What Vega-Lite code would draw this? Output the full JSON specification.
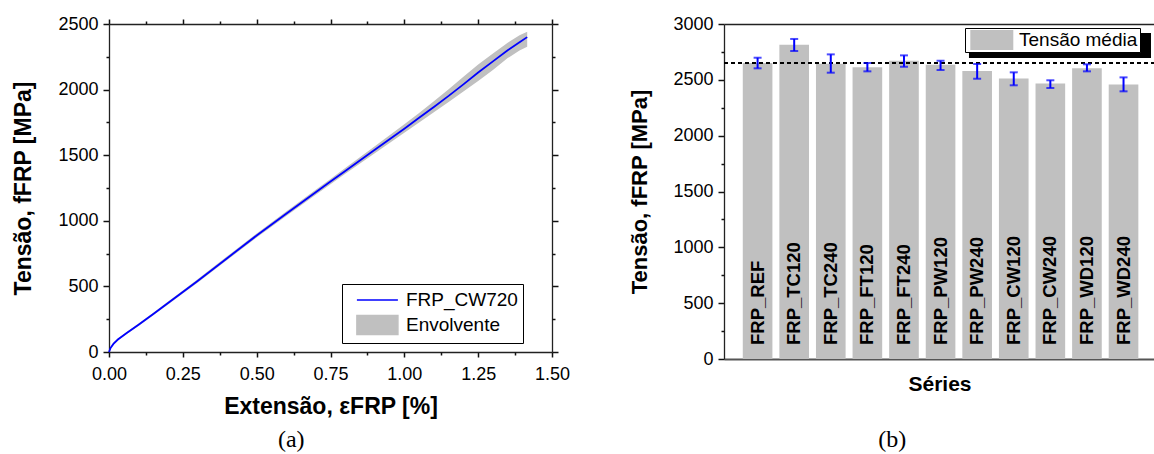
{
  "$schema": "https://vega.github.io/schema/vega-lite/v6.json",
  "background": "white",
  "padding": {"left": 12, "top": 15, "right": 0, "bottom": 0},
  "spacing": 58,
  "config": {
    "font": "Liberation Sans",
    "view": {"stroke": null},
    "axis": {
      "grid": false,
      "ticks": true,
      "domainColor": "#222222",
      "domainWidth": 1.3,
      "tickColor": "#111111",
      "tickWidth": 1.5,
      "labelColor": "black",
      "titleColor": "black",
      "labelFont": "Liberation Sans",
      "titleFont": "Liberation Sans",
      "labelOverlap": false
    },
    "legend": {"labelFont": "Liberation Sans", "labelColor": "black"}
  },
  "resolve": {"scale": {"color": "independent"}, "legend": {"color": "independent"}},
  "hconcat": [
    {
      "width": 443,
      "height": 328,
      "title": {"text": "(a)", "orient": "bottom", "frame": "bounds", "anchor": "middle", "font": "Liberation Serif", "fontSize": 24, "fontWeight": "normal", "color": "black", "offset": 10},
      "data": {"values": [
        {"x": 0, "y": 0, "lo": 0, "hi": 0},
        {"x": 0.005, "y": 30, "lo": 25, "hi": 35},
        {"x": 0.015, "y": 62, "lo": 55, "hi": 70},
        {"x": 0.03, "y": 95, "lo": 87, "hi": 103},
        {"x": 0.06, "y": 145, "lo": 137, "hi": 153},
        {"x": 0.1, "y": 208, "lo": 199, "hi": 217},
        {"x": 0.15, "y": 290, "lo": 280, "hi": 300},
        {"x": 0.2, "y": 373, "lo": 362, "hi": 384},
        {"x": 0.25, "y": 457, "lo": 445, "hi": 469},
        {"x": 0.3, "y": 541, "lo": 528, "hi": 554},
        {"x": 0.4, "y": 715, "lo": 701, "hi": 729},
        {"x": 0.5, "y": 888, "lo": 872, "hi": 904},
        {"x": 0.6, "y": 1053, "lo": 1036, "hi": 1070},
        {"x": 0.7, "y": 1218, "lo": 1199, "hi": 1237},
        {"x": 0.75, "y": 1299, "lo": 1279, "hi": 1319},
        {"x": 0.8, "y": 1380, "lo": 1358, "hi": 1402},
        {"x": 0.9, "y": 1542, "lo": 1515, "hi": 1569},
        {"x": 1.0, "y": 1702, "lo": 1672, "hi": 1735},
        {"x": 1.05, "y": 1785, "lo": 1750, "hi": 1822},
        {"x": 1.1, "y": 1868, "lo": 1828, "hi": 1912},
        {"x": 1.15, "y": 1952, "lo": 1905, "hi": 2003},
        {"x": 1.2, "y": 2040, "lo": 1985, "hi": 2098},
        {"x": 1.25, "y": 2130, "lo": 2065, "hi": 2192},
        {"x": 1.3, "y": 2215, "lo": 2150, "hi": 2275},
        {"x": 1.35, "y": 2300, "lo": 2240, "hi": 2358},
        {"x": 1.39, "y": 2360, "lo": 2298, "hi": 2415},
        {"x": 1.416, "y": 2400, "lo": 2327, "hi": 2441}
      ]},
      "resolve": {"axis": {"x": "independent", "y": "independent"}},
      "layer": [
        {
          "data": {"values": [{}]},
          "mark": {"type": "rect", "color": "black"},
          "encoding": {
            "x": {"datum": 0.8059, "type": "quantitative", "axis": null},
            "x2": {"datum": 1.4018},
            "y": {"datum": 480, "type": "quantitative", "axis": null},
            "y2": {"datum": 76.2}
          }
        },
        {
          "mark": {"type": "area", "opacity": 1},
          "encoding": {
            "x": {"field": "x", "type": "quantitative", "scale": {"domain": [0, 1.5], "nice": false, "zero": false},
              "axis": {"orient": "bottom", "values": [0, 0.25, 0.5, 0.75, 1, 1.25, 1.5], "format": ".2f",
                "ticks": true, "tickSize": 5, "labelFontSize": 18, "labelPadding": 8, "labelFlush": false,
                "title": "Extensão, εFRP [%]", "titleFontSize": 23, "titleFontWeight": "bold", "titlePadding": 12}},
            "y": {"field": "lo", "type": "quantitative", "scale": {"domain": [0, 2500], "nice": false},
              "axis": {"orient": "left", "values": [0, 500, 1000, 1500, 2000, 2500], "format": "d",
                "ticks": true, "tickSize": 6, "labelFontSize": 18, "labelPadding": 5,
                "title": "Tensão, fFRP [MPa]", "titleFontSize": 23, "titleFontWeight": "bold", "titlePadding": 22}},
            "y2": {"field": "hi"},
            "color": {"datum": "Envolvente", "type": "nominal",
              "scale": {"domain": ["FRP_CW720", "Envolvente"], "range": ["#0000ff", "#c0c0c0"]},
              "legend": {"orient": "none", "legendX": 233, "legendY": 260, "title": null,
                "strokeColor": "black", "fillColor": "white", "padding": 5,
                "labelFontSize": 19, "labelOffset": 37, "rowPadding": 2,
                "symbolSize": 400,
                "symbolType": {"expr": "datum.label === 'FRP_CW720' ? 'M-0.11,0H3.99' : 'M-0.11,-0.95H3.99V0.95H-0.11Z'"},
                "symbolStrokeWidth": 1.5}}
          }
        },
        {
          "mark": {"type": "line", "strokeWidth": 1.8},
          "encoding": {
            "x": {"field": "x", "type": "quantitative",
              "axis": {"orient": "top", "values": [0, 0.25, 0.5, 0.75, 1, 1.25, 1.5], "labels": false, "title": null, "ticks": true, "tickSize": 5}},
            "y": {"field": "y", "type": "quantitative",
              "axis": {"orient": "right", "values": [0, 500, 1000, 1500, 2000, 2500], "labels": false, "title": null, "ticks": true, "tickSize": 6}},
            "color": {"datum": "FRP_CW720", "type": "nominal"}
          }
        },
        {
          "mark": {"type": "point", "opacity": 0},
          "encoding": {
            "x": {"field": "x", "type": "quantitative",
              "axis": {"orient": "bottom", "values": [0.125, 0.375, 0.625, 0.875, 1.125, 1.375], "labels": false, "domain": false, "title": null, "ticks": true, "tickSize": 3}},
            "y": {"field": "y", "type": "quantitative",
              "axis": {"orient": "left", "values": [250, 750, 1250, 1750, 2250], "labels": false, "domain": false, "title": null, "ticks": true, "tickSize": 3}}
          }
        },
        {
          "mark": {"type": "point", "opacity": 0},
          "encoding": {
            "x": {"field": "x", "type": "quantitative",
              "axis": {"orient": "top", "values": [0.125, 0.375, 0.625, 0.875, 1.125, 1.375], "labels": false, "domain": false, "title": null, "ticks": true, "tickSize": 3}},
            "y": {"field": "y", "type": "quantitative",
              "axis": {"orient": "right", "values": [250, 750, 1250, 1750, 2250], "labels": false, "domain": false, "title": null, "ticks": true, "tickSize": 3}}
          }
        }
      ]
    },
    {
      "width": 431,
      "height": 335,
      "title": {"text": "(b)", "orient": "bottom", "frame": "bounds", "anchor": "middle", "font": "Liberation Serif", "fontSize": 24, "fontWeight": "normal", "color": "black", "offset": 34},
      "data": {"values": [
        {"series": "FRP_REF", "mean": 2650, "lo": 2603, "hi": 2698},
        {"series": "FRP_TC120", "mean": 2815, "lo": 2758, "hi": 2866},
        {"series": "FRP_TC240", "mean": 2645, "lo": 2564, "hi": 2728},
        {"series": "FRP_FT120", "mean": 2612, "lo": 2576, "hi": 2651},
        {"series": "FRP_FT240", "mean": 2672, "lo": 2617, "hi": 2719},
        {"series": "FRP_PW120", "mean": 2636, "lo": 2588, "hi": 2671},
        {"series": "FRP_PW240", "mean": 2578, "lo": 2510, "hi": 2642},
        {"series": "FRP_CW120", "mean": 2512, "lo": 2451, "hi": 2567},
        {"series": "FRP_CW240", "mean": 2467, "lo": 2427, "hi": 2496},
        {"series": "FRP_WD120", "mean": 2604, "lo": 2576, "hi": 2639},
        {"series": "FRP_WD240", "mean": 2458, "lo": 2397, "hi": 2522}
      ]},
      "resolve": {"scale": {"x": "independent"}, "axis": {"x": "independent", "y": "independent"}},
      "layer": [
        {
          "data": {"values": [{}]},
          "mark": {"type": "rect", "color": "black"},
          "encoding": {
            "x": {"datum": 0.5684, "type": "quantitative", "scale": {"domain": [0, 1], "nice": false, "zero": false}, "axis": null},
            "x2": {"datum": 0.9907},
            "y": {"datum": 2919.4, "type": "quantitative", "axis": null},
            "y2": {"datum": 2695.5}
          }
        },
        {
          "resolve": {"axis": {"x": "independent", "y": "independent"}},
          "layer": [
            {
              "mark": {"type": "bar"},
              "encoding": {
                "x": {"field": "series", "type": "nominal", "sort": null,
                  "scale": {"paddingInner": 0.19, "paddingOuter": 0.484, "align": 0.53, "round": false},
                  "axis": {"orient": "bottom", "labels": false, "ticks": false, "domainColor": "#555555", "domainWidth": 2,
                    "title": "Séries", "titleFontSize": 21, "titleFontWeight": "bold", "titlePadding": 14}},
                "y": {"field": "mean", "type": "quantitative", "scale": {"domain": [0, 3000], "nice": false},
                  "axis": {"orient": "left", "values": [0, 500, 1000, 1500, 2000, 2500, 3000], "format": "d",
                    "ticks": true, "tickSize": 6, "labelFontSize": 18, "labelPadding": 5,
                    "title": "Tensão, fFRP [MPa]", "titleFontSize": 22, "titleFontWeight": "bold", "titlePadding": 21}},
                "color": {"datum": "Tensão média", "type": "nominal",
                  "scale": {"range": ["#c0c0c0"]},
                  "legend": {"orient": "none", "legendX": 241, "legendY": 4, "title": null,
                    "strokeColor": "black", "fillColor": "white", "padding": 2,
                    "labelFontSize": 19, "labelOffset": 32,
                    "symbolSize": 400,
                    "symbolType": "M-0.67,-1H3.63V1H-0.67Z",
                    "symbolStrokeWidth": 0}}
              }
            },
            {
              "mark": {"type": "rule", "color": "black", "strokeDash": [4, 3], "strokeWidth": 1.3},
              "encoding": {"y": {"datum": 2650, "type": "quantitative", "axis": null}}
            },
            {
              "mark": {"type": "rule", "color": "#0000ff", "strokeWidth": 2},
              "encoding": {
                "x": {"field": "series", "type": "nominal", "sort": null,
                  "axis": {"orient": "top", "labels": false, "ticks": false, "title": null, "domainColor": "#222222", "domainWidth": 1.3}},
                "y": {"field": "lo", "type": "quantitative",
                  "axis": {"orient": "left", "values": [250, 750, 1250, 1750, 2250, 2750], "labels": false, "domain": false, "title": null, "ticks": true, "tickSize": 3}},
                "y2": {"field": "hi"}
              }
            },
            {
              "mark": {"type": "tick", "color": "#0000ff", "size": 8, "thickness": 2, "orient": "horizontal"},
              "encoding": {
                "x": {"field": "series", "type": "nominal", "sort": null, "axis": null},
                "y": {"field": "lo", "type": "quantitative", "axis": null}
              }
            },
            {
              "mark": {"type": "tick", "color": "#0000ff", "size": 8, "thickness": 2, "orient": "horizontal"},
              "encoding": {
                "x": {"field": "series", "type": "nominal", "sort": null, "axis": null},
                "y": {"field": "hi", "type": "quantitative", "axis": null}
              }
            },
            {
              "mark": {"type": "text", "angle": 270, "align": "left", "baseline": "middle", "dx": 14, "fontSize": 18.5, "fontWeight": "bold", "color": "black"},
              "encoding": {
                "x": {"field": "series", "type": "nominal", "sort": null, "axis": null},
                "y": {"datum": 0, "type": "quantitative", "axis": null},
                "text": {"field": "series"}
              }
            }
          ]
        }
      ]
    }
  ]
}
